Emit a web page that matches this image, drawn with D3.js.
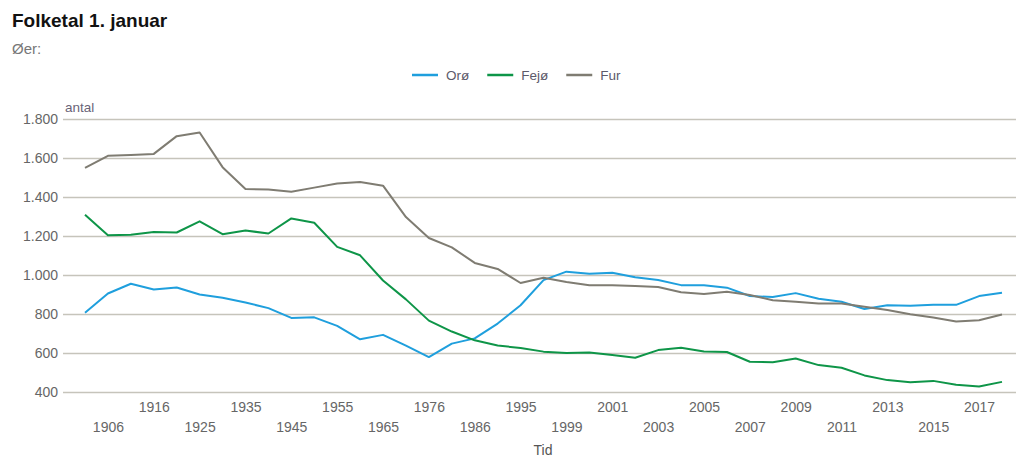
<!DOCTYPE html>
<html>
<head>
<meta charset="utf-8">
<script src="https://cdn.jsdelivr.net/npm/d3@7"></script>
<style>
  body { margin: 0; background: #fff; }
  svg { font-family: "Liberation Sans", Arial, sans-serif; }
</style>
</head>
<body>
<svg id="chart" width="1016" height="457"></svg>
<script>
// years on the x axis (1997 is the unlabelled point between 1995 and 1999)
var years = [1901, 1906, 1911, 1916, 1921, 1925, 1930, 1935, 1940, 1945,
             1950, 1955, 1960, 1965, 1970, 1976, 1981, 1986, 1990, 1995,
             1997, 1999, 2000, 2001, 2002, 2003, 2004, 2005, 2006, 2007,
             2008, 2009, 2010, 2011, 2012, 2013, 2014, 2015, 2016, 2017, 2018];

var oro  = [806, 905, 955, 926, 936, 900, 883, 859, 830, 780,
            783, 739, 670, 693, 638, 579, 648, 675, 751, 845,
            974, 1017, 1007, 1012, 988, 974, 948, 947, 935, 892,
            887, 907, 878, 863, 826, 845, 842, 847, 847, 892, 909];

var fejo = [1309, 1204, 1206, 1221, 1218, 1275, 1209, 1228, 1213, 1290,
            1268, 1144, 1101, 972, 875, 766, 710, 665, 638, 626,
            607, 600, 603, 590, 576, 615, 627, 608, 605, 555,
            553, 572, 538, 524, 485, 461, 450, 457, 437, 428, 452];

var fur  = [1549, 1611, 1616, 1621, 1712, 1731, 1553, 1441, 1439, 1427,
            1448, 1469, 1477, 1458, 1297, 1190, 1142, 1062, 1031, 959,
            986, 964, 948, 947, 943, 938, 912, 902, 914, 897,
            871, 863, 854, 854, 837, 820, 799, 782, 761, 768, 797];

var seriesNames = ["Orø", "Fejø", "Fur"];
var seriesColors = ["#1f9fdd", "#0e9548", "#7f7c72"];
var yTicks = [400, 600, 800, 1000, 1200, 1400, 1600, 1800];

var svg = d3.select("#chart");

var gridLeft = 63, gridRight = 1016;
var x = d3.scalePoint().domain(years).range([85, 1002]);
var y = d3.scaleLinear().domain([400, 1800]).range([392, 119]);

var da = d3.formatLocale({decimal: ",", thousands: ".", grouping: [3], currency: ["", ""]});
var fmt = da.format(",");

// title
svg.append("text").attr("x", 12).attr("y", 27)
  .attr("font-size", 19).attr("font-weight", "bold").attr("fill", "#111")
  .text("Folketal 1. januar");
svg.append("text").attr("x", 12).attr("y", 54)
  .attr("font-size", 15).attr("fill", "#777")
  .text("Øer:");

// y axis + gridlines
var yAxis = svg.append("g")
  .attr("transform", "translate(" + gridLeft + ",0)")
  .call(d3.axisLeft(y).tickValues(yTicks).tickFormat(fmt)
        .tickSizeInner(-(gridRight - gridLeft)).tickSizeOuter(0).tickPadding(5));
yAxis.select(".domain").remove();
yAxis.selectAll(".tick line").attr("stroke", "#c6c4bb").attr("stroke-width", 1.3);
yAxis.selectAll(".tick text").attr("font-size", 14).attr("fill", "#666")
  .attr("font-family", "Liberation Sans, Arial, sans-serif");

svg.append("text").attr("x", 65).attr("y", 112)
  .attr("font-size", 13.5).attr("fill", "#6a6478")
  .text("antal");

// x axis labels, every other year in two rows
var shown = years.filter(function(d, i){ return i % 2 == 1; });
var xAxis = svg.append("g")
  .attr("transform", "translate(0,392)")
  .call(d3.axisBottom(x).tickValues(shown).tickSize(0).tickFormat(d3.format("d")));
xAxis.select(".domain").remove();
xAxis.selectAll(".tick text")
  .attr("font-size", 14).attr("fill", "#666")
  .attr("font-family", "Liberation Sans, Arial, sans-serif")
  .attr("dy", null)
  .attr("y", function(d, i){ return i % 2 == 0 ? 40 : 20; });

svg.append("text").attr("x", 543).attr("y", 455)
  .attr("text-anchor", "middle").attr("font-size", 14).attr("fill", "#555")
  .text("Tid");

// lines
var allSeries = [oro, fejo, fur];
var line = d3.line()
  .x(function(d, i){ return x(years[i]); })
  .y(function(d){ return y(d); });

svg.selectAll("path.series")
  .data(allSeries)
  .enter()
  .append("path")
  .attr("class", "series")
  .attr("fill", "none")
  .attr("stroke", function(d, i){ return seriesColors[i]; })
  .attr("stroke-width", 2)
  .attr("stroke-linejoin", "round")
  .attr("d", line);

// legend
var lx = 412;
var legend = svg.append("g");
seriesNames.forEach(function(name, i){
  legend.append("line")
    .attr("x1", lx).attr("x2", lx + 26).attr("y1", 75).attr("y2", 75)
    .attr("stroke", seriesColors[i]).attr("stroke-width", 2.5);
  var t = legend.append("text")
    .attr("x", lx + 34).attr("y", 80)
    .attr("font-size", 13.5).attr("fill", "#5c5a6a")
    .text(name);
  lx = lx + 34 + t.node().getComputedTextLength() + 18;
});
</script>
</body>
</html>
